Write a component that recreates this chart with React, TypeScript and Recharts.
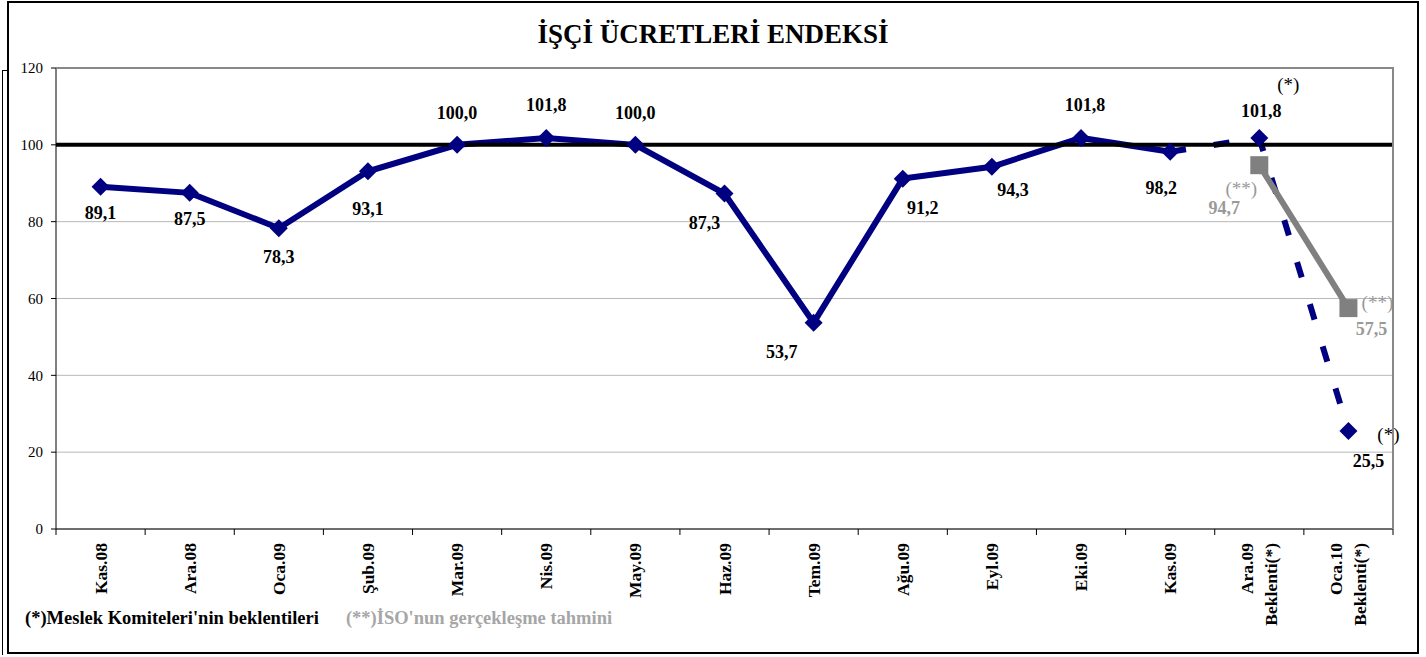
import React from "react";
import {
  CartesianGrid,
  LabelList,
  Line,
  LineChart,
  ReferenceLine,
  XAxis,
  YAxis
} from "recharts";

const months = [
  "Kas.08", "Ara.08", "Oca.09", "Şub.09", "Mar.09", "Nis.09", "May.09", "Haz.09",
  "Tem.09", "Ağu.09", "Eyl.09", "Eki.09", "Kas.09", "Ara.09\nBeklenti(*)", "Oca.10\nBeklenti(*)"
];
const actual = [89.1, 87.5, 78.3, 93.1, 100.0, 101.8, 100.0, 87.3, 53.7, 91.2, 94.3, 101.8, 98.2, null, null];
const committee = [null, null, null, null, null, null, null, null, null, null, null, null, 98.2, 101.8, 25.5];
const isoEstimate = [null, null, null, null, null, null, null, null, null, null, null, null, null, 94.7, 57.5];
const yTicks = [0, 20, 40, 60, 80, 100, 120];
const baseLevel = 100;

const data = months.map((m, i) => ({
  month: m,
  actual: actual[i],
  committee: committee[i],
  iso: isoEstimate[i]
}));

const NAVY = "#000080";
const GRAY = "#808080";
const LABEL_GRAY = "#999999";
const SERIF = "'Liberation Serif', 'Times New Roman', serif";

const W = 1426;
const H = 657;
const PLOT_LEFT = 56;
const PLOT_RIGHT = 1393;
const PLOT_TOP = 68;
const PLOT_BOTTOM = 529;
const BAND = (PLOT_RIGHT - PLOT_LEFT) / months.length;

// label offsets (centre of text relative to the point)
const actualLabelPos: [number, number][] = [
  [0, 26], [0, 26], [0, 29], [0, 38], [0, -32], [0, -33], [0, -32],
  [-20, 29], [-32, 29], [20, 29], [21, 23], [4, -33], [-9, 36]
];

const fmt = (v: number) => v.toFixed(1).replace(".", ",");

const Diamond = (props: any) => {
  const { cx, cy, index, skip } = props;
  if (cx == null || cy == null || (skip && skip.includes(index))) return <g key={`d${index}`} />;
  const r = 9;
  return (
    <path
      key={`d${index}`}
      d={`M${cx},${cy - r} L${cx + r},${cy} L${cx},${cy + r} L${cx - r},${cy} Z`}
      fill={NAVY}
    />
  );
};

const Square = (props: any) => {
  const { cx, cy, index } = props;
  if (cx == null || cy == null) return <g key={`s${index}`} />;
  return <rect key={`s${index}`} x={cx - 9} y={cy - 9} width={18} height={18} fill={GRAY} />;
};

const ValueText = ({ x, y, text, fill = "#000", bold = true, size = 18 }: any) => (
  <text
    x={x}
    y={y}
    textAnchor="middle"
    dominantBaseline="central"
    fontFamily={SERIF}
    fontWeight={bold ? "bold" : "normal"}
    fontSize={size}
    fill={fill}
  >
    {text}
  </text>
);

const actualLabel = (p: any) => {
  const { x, y, value, index } = p;
  if (value == null || x == null) return null;
  const [dx, dy] = actualLabelPos[index] || [0, 26];
  return <ValueText key={`al${index}`} x={x + dx} y={y + dy} text={fmt(value)} />;
};

const committeeLabel = (p: any) => {
  const { x, y, value, index } = p;
  if (value == null || x == null || index < 13) return null;
  if (index === 13) {
    return (
      <g key={`cl${index}`}>
        <ValueText x={x + 2} y={y - 27} text={fmt(value)} />
        <ValueText x={x + 29} y={y - 53} text="(*)" bold={false} size={19} />
      </g>
    );
  }
  return (
    <g key={`cl${index}`}>
      <ValueText x={x + 20} y={y + 30} text={fmt(value)} />
      <ValueText x={x + 40} y={y + 3} text="(*)" bold={false} size={19} />
    </g>
  );
};

const isoLabel = (p: any) => {
  const { x, y, value, index } = p;
  if (value == null || x == null) return null;
  if (index === 13) {
    return (
      <g key={`il${index}`}>
        <ValueText x={x - 18} y={y + 23} text="(**)" bold={false} size={19} fill={LABEL_GRAY} />
        <ValueText x={x - 35} y={y + 43} text={fmt(value)} fill={LABEL_GRAY} />
      </g>
    );
  }
  return (
    <g key={`il${index}`}>
      <ValueText x={x + 29} y={y - 6} text="(**)" bold={false} size={19} fill={LABEL_GRAY} />
      <ValueText x={x + 23} y={y + 21} text={fmt(value)} fill={LABEL_GRAY} />
    </g>
  );
};

const XTick = (props: any) => {
  const { x, y, payload, index } = props;
  const lines = String(payload.value).split("\n");
  const top = y + 14;
  return (
    <g>
      {index === 0 && <line x1={x - BAND / 2} x2={x - BAND / 2} y1={y} y2={y + 6} stroke="#000" />}
      <line x1={x + BAND / 2} x2={x + BAND / 2} y1={y} y2={y + 6} stroke="#000" />
      {lines.map((ln, i) => {
        const tx = x + (i - (lines.length - 1) / 2) * 24;
        return (
          <text
            key={i}
            x={tx}
            y={top}
            transform={`rotate(-90, ${tx}, ${top})`}
            textAnchor="end"
            dominantBaseline="central"
            fontFamily={SERIF}
            fontWeight="bold"
            fontSize={17.5}
            fill="#000"
          >
            {ln}
          </text>
        );
      })}
    </g>
  );
};

export default function App() {
  return (
    <div style={{ position: "absolute", left: 0, top: 0, width: W, height: H, background: "#fff", fontFamily: SERIF }}>
      <div
        style={{
          position: "absolute",
          left: 7,
          top: 1,
          width: 1412,
          height: 653,
          border: "2px solid #000",
          boxSizing: "border-box"
        }}
      />
      <div
        style={{
          position: "absolute",
          left: 2,
          top: 70,
          width: 5,
          height: 585,
          borderLeft: "1px solid #000",
          borderTop: "1px solid #000",
          boxSizing: "border-box"
        }}
      />
      <div
        style={{
          position: "absolute",
          left: 0,
          top: 17,
          width: W,
          textAlign: "center",
          fontWeight: "bold",
          fontSize: 27,
          lineHeight: "34px"
        }}
      >
        İŞÇİ ÜCRETLERİ ENDEKSİ
      </div>
      <LineChart
        width={W}
        height={H}
        data={data}
        margin={{ top: PLOT_TOP, right: W - PLOT_RIGHT, left: 0, bottom: 18 }}
        style={{ position: "absolute", left: 0, top: 0 }}
      >
        <CartesianGrid vertical={false} stroke="#b8b8b8" strokeWidth={1} />
        <XAxis
          dataKey="month"
          interval={0}
          height={H - PLOT_BOTTOM - 18}
          padding={{ left: BAND / 2, right: BAND / 2 }}
          tickLine={false}
          tickSize={0}
          tickMargin={0}
          axisLine={{ stroke: "#000" }}
          tick={<XTick />}
        />
        <YAxis
          domain={[0, 120]}
          ticks={yTicks}
          width={PLOT_LEFT}
          axisLine={{ stroke: "#000" }}
          tickLine={{ stroke: "#000" }}
          tickSize={5}
          tickMargin={8}
          tick={{ fontFamily: SERIF, fontSize: 15, fill: "#000" }}
        />
        <Line
          dataKey="actual"
          stroke={NAVY}
          strokeWidth={6}
          dot={<Diamond />}
          activeDot={false}
          isAnimationActive={false}
        >
          <LabelList dataKey="actual" content={actualLabel} />
        </Line>
        <Line
          dataKey="committee"
          stroke={NAVY}
          strokeWidth={6}
          strokeDasharray="16 28"
          dot={<Diamond skip={[12]} />}
          activeDot={false}
          isAnimationActive={false}
        >
          <LabelList dataKey="committee" content={committeeLabel} />
        </Line>
        <Line
          dataKey="iso"
          stroke={GRAY}
          strokeWidth={6}
          dot={<Square />}
          activeDot={false}
          isAnimationActive={false}
        >
          <LabelList dataKey="iso" content={isoLabel} />
        </Line>
        <ReferenceLine y={baseLevel} stroke="#000" strokeWidth={4} />
      </LineChart>
      <div
        style={{
          position: "absolute",
          left: PLOT_LEFT,
          top: PLOT_TOP - 1,
          width: PLOT_RIGHT - PLOT_LEFT + 1,
          height: PLOT_BOTTOM - PLOT_TOP + 1,
          borderTop: "2px solid #888",
          borderRight: "2px solid #888",
          boxSizing: "border-box",
          pointerEvents: "none"
        }}
      />
      <div
        style={{
          position: "absolute",
          left: 25,
          top: 608,
          fontWeight: "bold",
          fontSize: 18.5,
          whiteSpace: "nowrap"
        }}
      >
        <span style={{ color: "#000" }}>(*)Meslek Komiteleri'nin beklentileri</span>
        <span style={{ color: "#a6a6a6", marginLeft: 27 }}>(**)İSO'nun gerçekleşme tahmini</span>
      </div>
    </div>
  );
}
